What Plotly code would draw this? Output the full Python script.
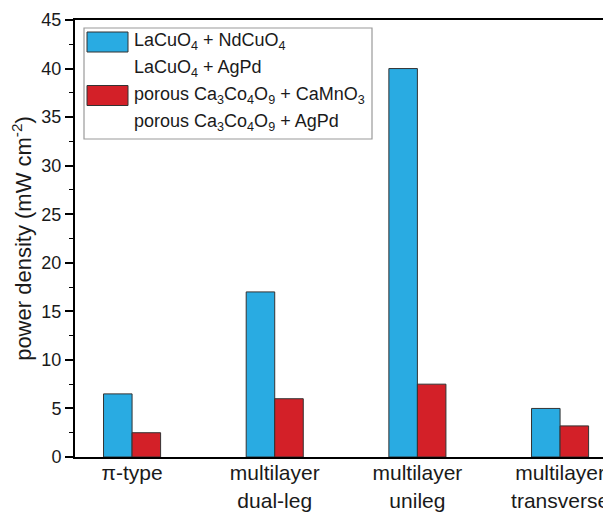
import plotly.graph_objects as go

categories = ["π-type", "multilayer<br>dual-leg", "multilayer<br>unileg", "multilayer<br>transverse"]
cat_pos = [0, 1, 2, 3]
lacuo_ndcuo = [6.5, 17.0, 40.0, 5.0]
porous_camno = [2.5, 6.0, 7.5, 3.2]
legend_names = [
    "LaCuO<sub>4</sub> + NdCuO<sub>4</sub>",
    "LaCuO<sub>4</sub> + AgPd",
    "porous Ca<sub>3</sub>Co<sub>4</sub>O<sub>9</sub> + CaMnO<sub>3</sub>",
    "porous Ca<sub>3</sub>Co<sub>4</sub>O<sub>9</sub> + AgPd",
]
legend_colors = ["#29ABE2", None, "#D32028", None]
y_ticks = [0, 5, 10, 15, 20, 25, 30, 35, 40, 45]

FONT = "Arial, Liberation Sans, sans-serif"
TXT = "#1a1a1a"
BW = 0.2

fig = go.Figure()
fig.add_trace(go.Bar(x=cat_pos, y=lacuo_ndcuo, width=BW, offset=-BW,
                     marker=dict(color=legend_colors[0], line=dict(color="#333333", width=1)),
                     showlegend=False))
fig.add_trace(go.Bar(x=cat_pos, y=porous_camno, width=BW, offset=0,
                     marker=dict(color=legend_colors[2], line=dict(color="#333333", width=1)),
                     showlegend=False))

# manual legend (paper coordinates; plot area is 536 x 437 px)
PW, PH = 536, 437
L, R, T, B = 9 / PW, 297 / PW, 429 / PH, 318 / PH
fig.add_shape(type="rect", xref="paper", yref="paper", x0=L, x1=R, y0=B, y1=T,
              line=dict(color="#9a9a9a", width=1.2), fillcolor="white", layer="above")
row_py = [42, 69, 95.5, 122]
for name, col, py in zip(legend_names, legend_colors, row_py):
    yc = (457 - py) / PH
    if col:
        fig.add_shape(type="rect", xref="paper", yref="paper",
                      x0=12 / PW, x1=53 / PW, y0=yc - 10 / PH, y1=yc + 10 / PH,
                      fillcolor=col, line=dict(color="#333333", width=1), layer="above")
    fig.add_annotation(x=57 / PW, y=yc, xref="paper", yref="paper", text=name,
                       showarrow=False, xanchor="left", yanchor="middle",
                       font=dict(family=FONT, size=18, color=TXT))

fig.update_layout(
    width=603, height=507,
    margin=dict(l=67, r=0, t=12, b=58, autoexpand=False),
    plot_bgcolor="white", paper_bgcolor="white",
    barmode="overlay",
    font=dict(family=FONT, size=18, color=TXT),
)
fig.update_xaxes(
    range=[-0.4, 3.357], tickvals=cat_pos, ticktext=categories,
    showline=True, linecolor="black", linewidth=2, mirror=True,
    ticks="", showgrid=False, zeroline=False, ticklabeloverflow="allow",
    ticklabelstandoff=-4,
    tickfont=dict(family=FONT, size=21, color=TXT),
)
fig.update_yaxes(
    range=[0, 45], tickvals=y_ticks,
    showline=True, linecolor="black", linewidth=2,
    ticks="outside", ticklen=8, tickwidth=1.5, tickcolor="black",
    minor=dict(ticks="outside", ticklen=4, dtick=2.5, tickcolor="black", tickwidth=1.2, showgrid=False),
    showgrid=False, zeroline=False,
    tickfont=dict(family=FONT, size=18, color=TXT),
    title=dict(text="power density (mW cm<sup>-2</sup>)", font=dict(family=FONT, size=22, color=TXT),
               standoff=4),
)

fig.write_html("out.html")
